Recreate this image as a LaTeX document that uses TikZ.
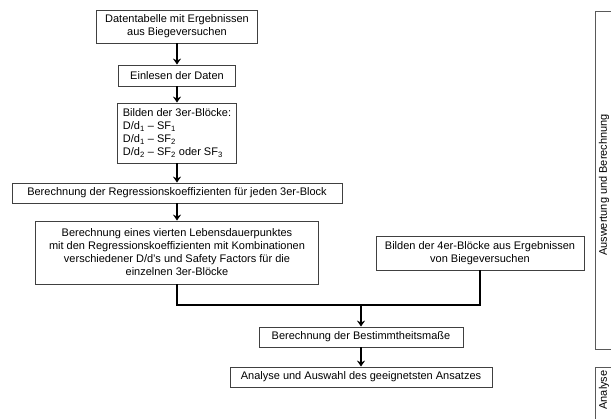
\documentclass[tikz,border=0pt]{standalone}
\usepackage{fontspec}
\setmainfont{Liberation Sans}
\usetikzlibrary{arrows.meta}
\begin{document}
\begin{tikzpicture}[x=1pt,y=-1pt,
    box/.style={draw=black!75,line width=0.8pt,inner xsep=5pt,inner ysep=2pt,
        font=\fontsize{11pt}{13pt}\selectfont,align=center},
    conn/.style={line width=1.6pt},
    arr/.style={conn,-{Stealth[length=6pt,width=8pt,inset=2pt]}},
    brk/.style={draw=black!65,line width=0.7pt},
    side/.style={font=\fontsize{11pt}{13pt}\selectfont,rotate=90}]
                \useasboundingbox (0,0) rectangle (611,419);
                \clip (0,0) rectangle (611,419);
                \node[box,minimum width=161pt,minimum height=33pt] (DT) at (177,26.5) {Datentabelle mit Ergebnissen\\aus Biegeversuchen};
                \node[box,minimum width=117pt,minimum height=21pt] (EL) at (177,75.5) {Einlesen der Daten};
                \node[box,align=left,minimum height=60pt] (B3) at (177,133) {Bilden der 3er-Blöcke:\\D/d\textsubscript{1} – SF\textsubscript{1}\\D/d\textsubscript{1} – SF\textsubscript{2}\\D/d\textsubscript{2} – SF\textsubscript{2} oder SF\textsubscript{3}};
                \node[box,minimum width=330pt,minimum height=20pt] (RK) at (177,193) {Berechnung der Regressionskoeffizienten für jeden 3er-Block};
                \node[box,minimum width=283pt,minimum height=63pt] (LP) at (177,252.5) {Berechnung eines vierten Lebensdauerpunktes\\mit den Regressionskoeffizienten mit Kombinationen\\verschiedener D/d's und Safety Factors für die\\einzelnen 3er-Blöcke};
                \node[box,minimum width=208pt,minimum height=34pt] (B4) at (480,253) {Bilden der 4er-Blöcke aus Ergebnissen\\von Biegeversuchen};
                \node[box,minimum width=204pt,minimum height=20pt] (BM) at (361,337) {Berechnung der Bestimmtheitsmaße};
                \node[box,minimum width=262pt,minimum height=20pt] (AA) at (361,377) {Analyse und Auswahl des geeignetsten Ansatzes};
                \coordinate (M) at (361,305);
                % arrows
                \draw[arr] (DT) -- (EL);
                \draw[arr] (EL) -- (B3);
                \draw[arr] (B3) -- (RK);
                \draw[arr] (RK) -- (LP);
                \draw[conn] (LP.south) |- (M) -| (B4.south);
                \draw[arr] (M) -- (BM);
                \draw[arr] (BM) -- (AA);
                % side brackets
                \draw[brk] (611,11) -- (595,11) -- (595,349) -- (611,349);
                \draw[brk] (611,367) -- (595,367) -- (595,430);
                \node[side] (AB) at (604,185) {Auswertung und Berechnung};
                \node[side] (AN) at (604,390) {Analyse};
            \end{tikzpicture}
\end{document}
